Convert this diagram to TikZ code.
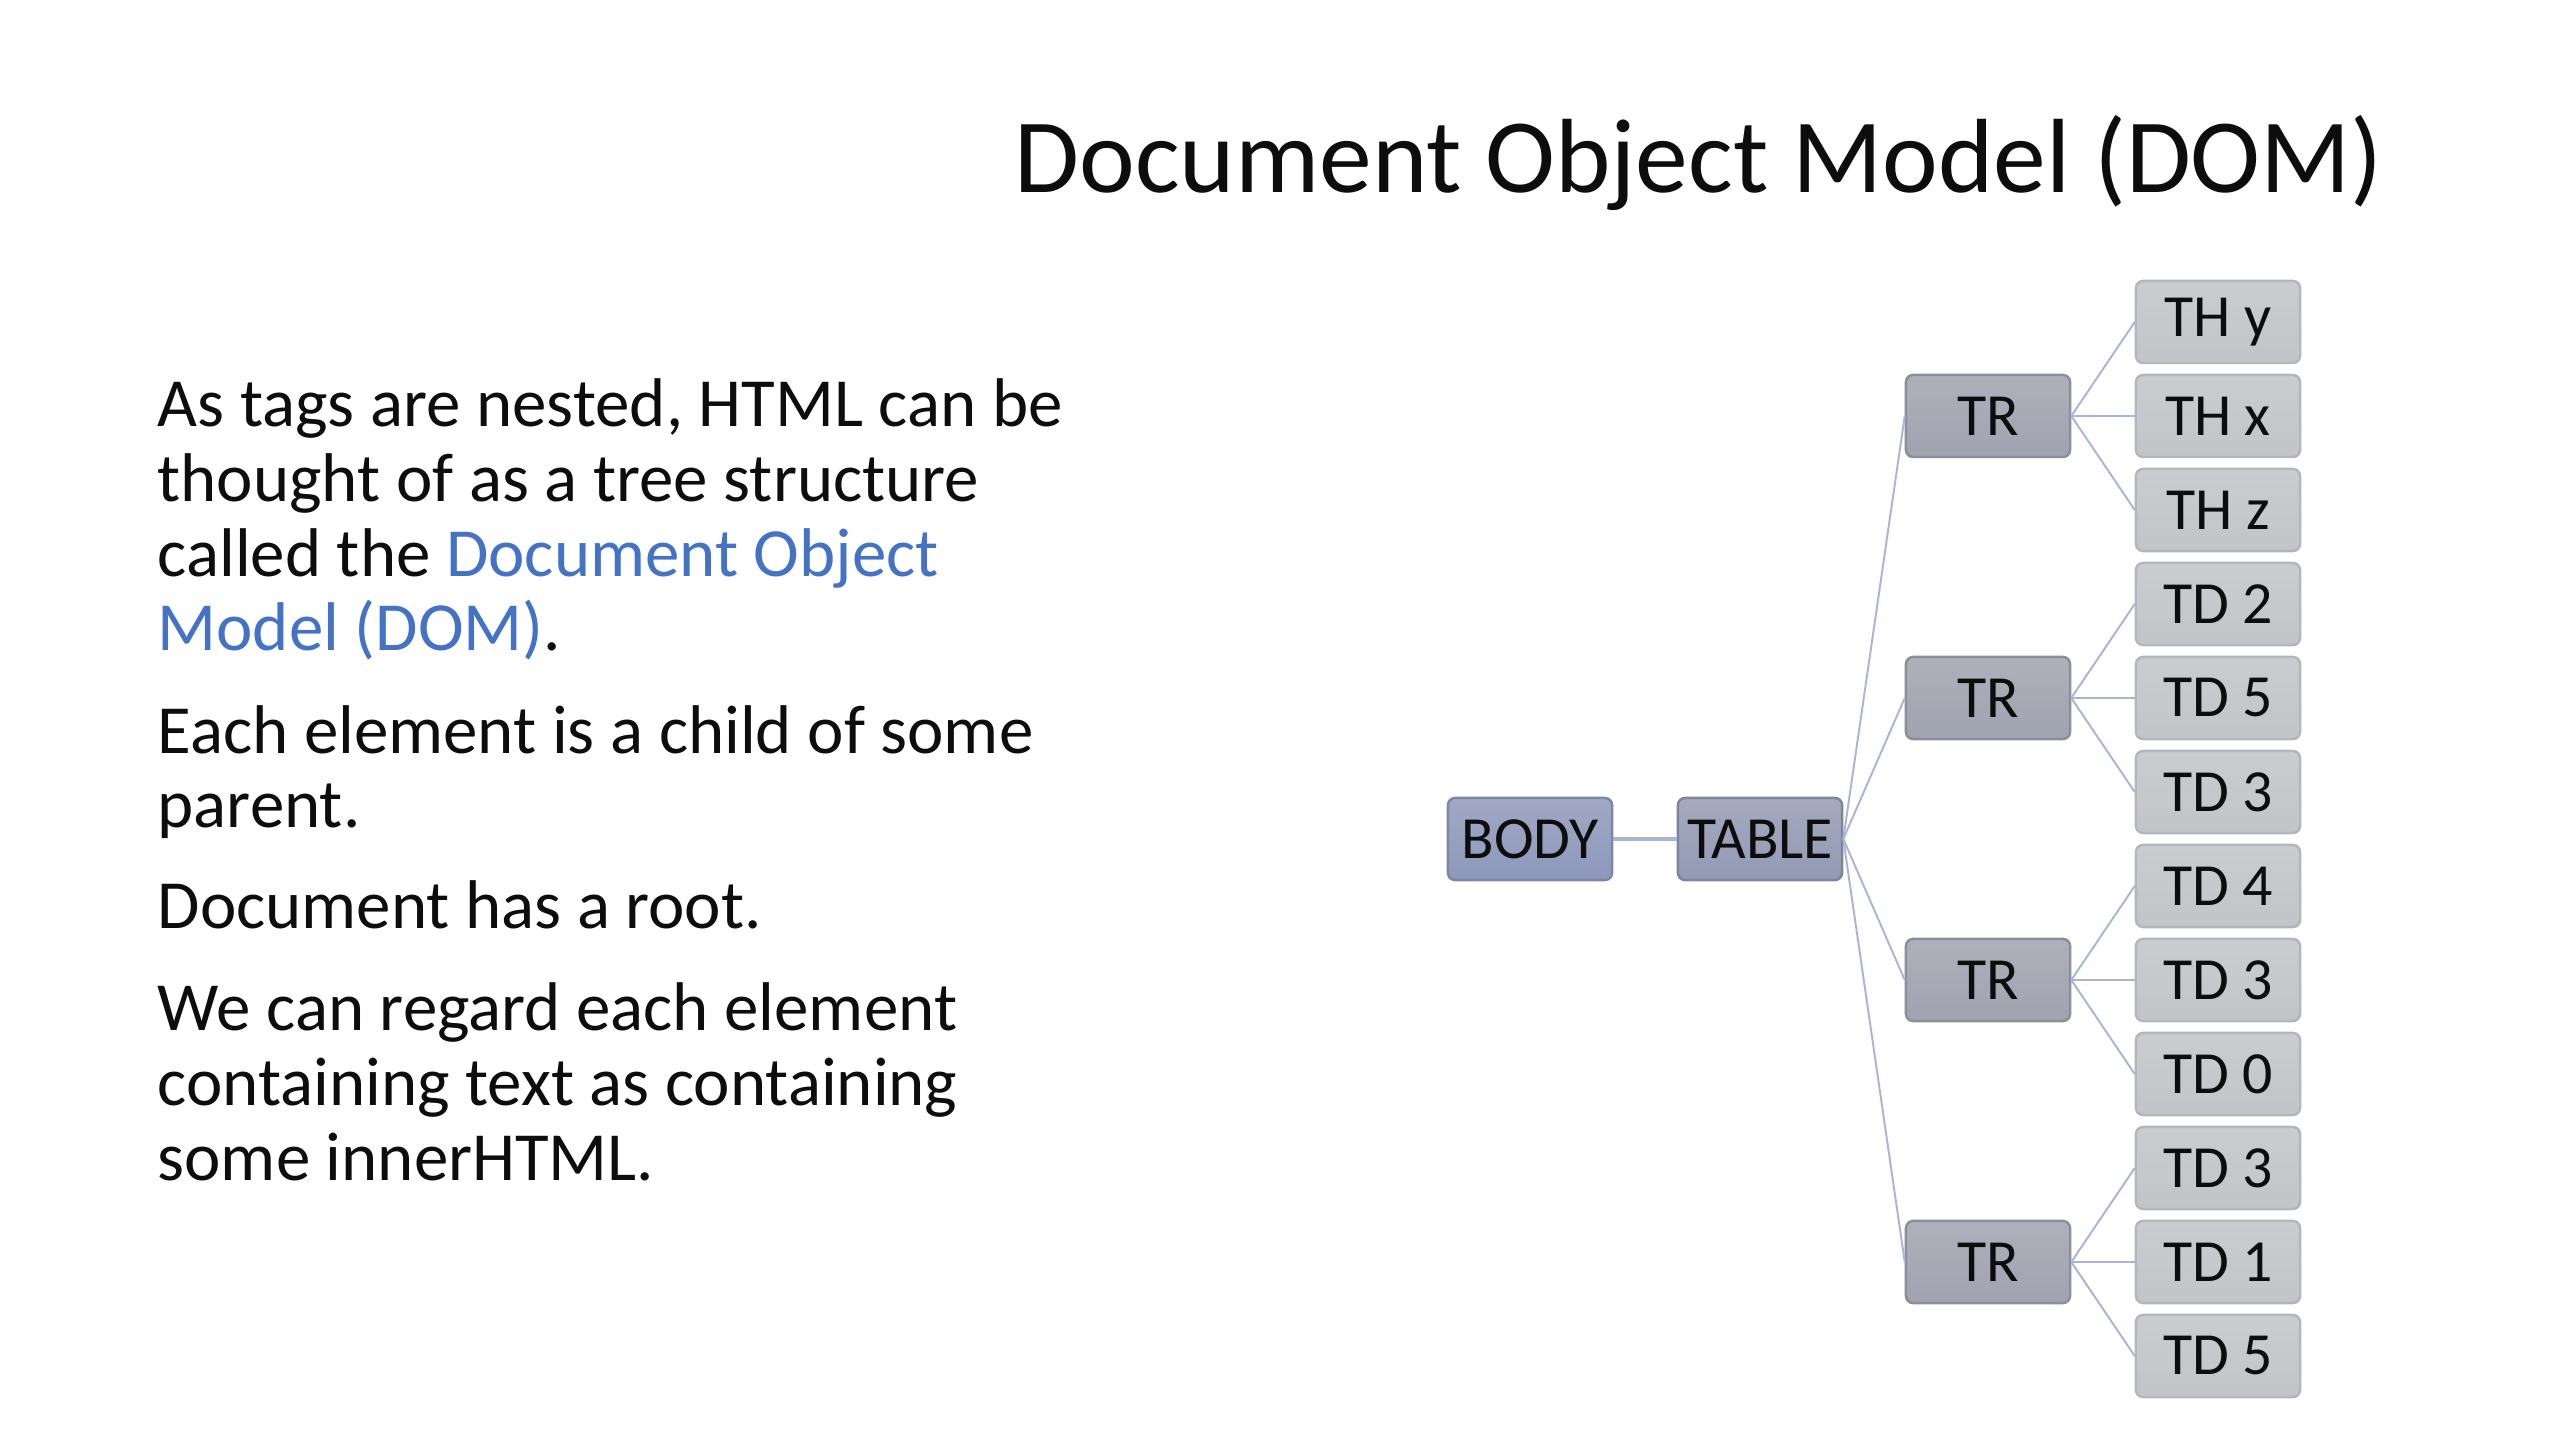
\documentclass[tikz,border=0pt]{standalone}
\usepackage{fontspec}
\setmainfont{Carlito}
\usepackage{xcolor}
\usepackage{tikz}

\definecolor{domblue}{HTML}{4472C4}
\definecolor{linkline}{HTML}{A9B4DC}
\definecolor{inktext}{HTML}{0D0D0D}

\tikzset{
  para/.style={anchor=base west,inner sep=0,align=left,text=inktext,
    font=\fontsize{19.6}{21.3}\selectfont},
  tagbox/.style={draw,rounded corners=2pt,line width=0.7pt,inner sep=0,
    minimum width=1.64cm,minimum height=0.82cm,text=inktext,
    font=\fontsize{17}{18}\selectfont},
  bodybox/.style={tagbox,top color=BodyTop,bottom color=BodyBot,draw=BodyEdge},
  tablebox/.style={tagbox,top color=TableTop,bottom color=TableBot,draw=TableEdge},
  rowbox/.style={tagbox,top color=RowTop,bottom color=RowBot,draw=RowEdge},
  cellbox/.style={tagbox,top color=CellTop,bottom color=CellBot,draw=CellEdge},
  trunk/.style={linkline,line width=1.1pt},
  branch/.style={linkline,line width=0.55pt}
}
\definecolor{BodyTop}{HTML}{A0A8C4}
\definecolor{BodyBot}{HTML}{8D98BB}
\definecolor{BodyEdge}{HTML}{7E87A3}
\definecolor{TableTop}{HTML}{A4A9BD}
\definecolor{TableBot}{HTML}{939AB5}
\definecolor{TableEdge}{HTML}{80869A}
\definecolor{RowTop}{HTML}{AEB0BB}
\definecolor{RowBot}{HTML}{A0A3B0}
\definecolor{RowEdge}{HTML}{8C8F99}
\definecolor{CellTop}{HTML}{CBCCCF}
\definecolor{CellBot}{HTML}{C3C4C7}
\definecolor{CellEdge}{HTML}{B5B6B9}

\begin{document}
\begin{tikzpicture}[x=0.01cm,y=-0.01cm]
  \useasboundingbox[fill=white] (0,0) rectangle (2560,1440);
  % title
  \node[anchor=base west,inner sep=0,text=inktext,font=\fontsize{30}{36}\selectfont]
    (title) at (1014,193) {Document Object Model (DOM)};
  % text on the left (anchored at the baseline of the last line)
  \node[para] (p1) at (157,651) {As tags are nested, HTML can be\\
    thought of as a tree structure\\
    called the \textcolor{domblue}{Document Object}\\
    \textcolor{domblue}{Model (DOM)}.};
  \node[para] (p2) at (157,828) {Each element is a child of some\\parent.};
  \node[para] (p3) at (157,929) {Document has a root.};
  \node[para] (p4) at (157,1180) {We can regard each element\\
    containing text as containing\\
    some innerHTML.};
  % tree
  \node[bodybox] (body) at (1530,839) {BODY};
  \node[tablebox] (table) at (1760,839) {TABLE};
  \foreach \i/\y in {1/416,2/698,3/980,4/1262}
    \node[rowbox] (r\i) at (1988,\y) {TR};
  \foreach \lab [count=\i] in {TH y,TH x,TH z,TD 2,TD 5,TD 3,TD 4,TD 3,TD 0,TD 3,TD 1,TD 5}
    \node[cellbox] (c\i) at (2218,{322+94*(\i-1)}) {\lab};
  \draw[trunk] (body) -- (table);
  \foreach \i in {1,...,4} {
    \draw[branch] (table.east) -- (r\i.west);
    \foreach \j in {1,2,3} {
      \pgfmathtruncatemacro\k{3*(\i-1)+\j}
      \draw[branch] (r\i.east) -- (c\k.west);
    }
  }
\end{tikzpicture}
\end{document}
